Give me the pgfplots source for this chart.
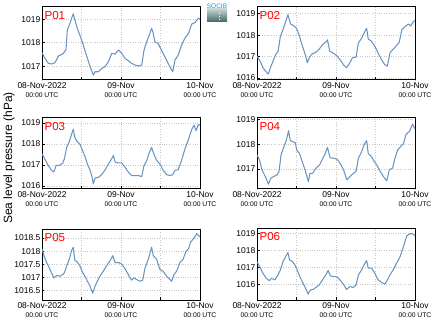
\documentclass[border=0pt]{standalone}
\usepackage{fontspec}
\setmainfont{Liberation Sans}
\usepackage{pgfplots}
\pgfplotsset{compat=1.18}
\definecolor{linec}{RGB}{105,148,193}
\tikzset{ptitle/.style={anchor=north west, text=red, font=\fontsize{11.6}{12}\selectfont, inner sep=0pt}}
\pgfplotsset{
  panel/.style={
    width=158bp, height=72bp, scale only axis,
    xmin=0, xmax=48,
    xtick={0,24,48}, minor xtick={12,36},
    xticklabels={{08-Nov-2022\\{\fontsize{6.8}{9.5}\selectfont 00:00 UTC}},{09-Nov\\{\fontsize{6.8}{9.5}\selectfont 00:00 UTC}},{10-Nov\\{\fontsize{6.8}{9.5}\selectfont 00:00 UTC}}},
    xticklabel style={align=center, font=\fontsize{8.5}{9.5}\selectfont, inner sep=1bp, yshift=-1bp},
    yticklabel style={font=\fontsize{8.5}{10}\selectfont, inner sep=1.5bp},
    /pgf/number format/assume math mode=true,
    /pgf/number format/1000 sep={},
    scaled y ticks=false,
    xmajorgrids, xminorgrids, ymajorgrids,
    grid style={dotted, gray!45, line width=0.6pt},
    minor grid style={dotted, gray!45, line width=0.6pt},
    tick align=inside, tick pos=left,
    major tick length=2.5bp, minor tick length=2.5bp,
    tick style={black, line width=0.6pt},
    axis line style={black, line width=1pt},
    cycle list={{linec, mark=none}},
    every axis plot post/.append style={line width=1.05pt, line join=round},
  },
}
\begin{document}
\begin{tikzpicture}
\useasboundingbox (0,0) rectangle (434bp,327bp);
% P01
\begin{axis}[panel, at={(42bp,247bp)}, anchor=south west, height=73bp,
  ymin=1016.42, ymax=1019.52, ytick={1017,1018,1019}]
\addplot coordinates {(0,1017.58)(0.9,1017.34)(1.9,1017.13)(2.9,1017.1)(3.9,1017.15)(4.5,1017.3)(5,1017.44)(6,1017.51)(6.5,1017.55)(7.3,1017.72)(7.7,1018.55)(8.5,1018.83)(9,1019.04)(9.5,1019.23)(10,1018.97)(10.7,1018.62)(11.5,1018.33)(12.4,1017.97)(13,1017.69)(13.8,1017.34)(14.6,1016.99)(15.6,1016.63)(16.1,1016.77)(17.1,1016.77)(18.1,1016.91)(19.1,1016.98)(20.2,1017.2)(21.2,1017.55)(22.2,1017.52)(23.2,1017.69)(24.2,1017.55)(25.2,1017.34)(26.2,1017.24)(27.2,1017.13)(28.2,1017.06)(29.3,1017.01)(30.3,1017.06)(31,1017.69)(31.8,1018.04)(32.6,1018.33)(33.3,1018.62)(33.8,1018.4)(34.3,1018.04)(35.3,1017.97)(36.3,1017.69)(37.3,1017.41)(38.3,1017.13)(39.4,1016.84)(39.7,1016.77)(40.4,1017.27)(41.4,1017.48)(42.4,1017.9)(43.4,1018.19)(44.5,1018.4)(45.5,1018.8)(46.5,1018.86)(47.5,1019.04)(48,1019.0)};
\node[ptitle] at (rel axis cs:0.015,0.936) {P01};
\end{axis}
% P02
\begin{axis}[panel, at={(257bp,247bp)}, anchor=south west, height=73bp,
  ymin=1015.91, ymax=1019.31, ytick={1016,1017,1018,1019}]
\addplot coordinates {(0,1017.02)(1,1016.78)(1.8,1016.49)(2.5,1016.34)(3.4,1016.18)(4.1,1016.49)(4.9,1016.8)(5.7,1017.1)(6.4,1017.25)(7.1,1017.94)(7.9,1018.25)(8.6,1018.57)(9.4,1018.95)(10.2,1018.52)(11.2,1018.43)(12,1018.32)(12.8,1018.0)(13.5,1017.63)(14.5,1017.17)(15.3,1016.71)(16,1017.0)(16.9,1017.14)(17.9,1017.2)(18.9,1017.35)(19.9,1017.55)(20.9,1017.68)(21.4,1017.78)(22.1,1017.25)(23.1,1017.17)(24.2,1017.05)(25.2,1016.86)(26.2,1016.63)(27.2,1016.48)(28.2,1016.71)(29,1016.94)(30.1,1016.98)(30.8,1017.63)(31.8,1017.86)(32.5,1018.09)(33.3,1018.32)(33.8,1017.82)(34.8,1017.71)(35.8,1017.48)(36.8,1017.17)(37.8,1016.86)(38.8,1016.63)(39.6,1016.55)(40.4,1017.17)(41.2,1017.32)(42.2,1017.48)(43.2,1017.66)(44,1018.25)(45,1018.4)(46,1018.52)(46.7,1018.43)(47.5,1018.63)(48,1018.68)};
\node[ptitle] at (rel axis cs:0.015,0.936) {P02};
\end{axis}
% P03
\begin{axis}[panel, at={(42bp,138bp)}, anchor=south west, height=71bp,
  ymin=1015.86, ymax=1019.24, ytick={1016,1017,1018,1019}]
\addplot coordinates {(0,1017.54)(0.9,1017.27)(1.9,1016.98)(2.9,1016.75)(3.6,1016.67)(4.3,1016.98)(5.3,1016.98)(6.3,1017.09)(6.8,1017.3)(7.5,1017.84)(8.3,1018.12)(9,1018.47)(9.5,1018.7)(10,1018.3)(10.7,1018.12)(11.5,1018.0)(12.4,1017.66)(13,1017.42)(13.8,1017.05)(14.6,1016.75)(15.1,1016.5)(15.6,1016.1)(16.1,1016.38)(17.1,1016.41)(18.1,1016.54)(19.1,1016.75)(20.2,1017.06)(21.2,1017.3)(21.7,1017.46)(22.2,1017.14)(23.2,1017.1)(24.2,1017.1)(25.2,1016.9)(26.2,1016.67)(27.2,1016.5)(28.2,1016.5)(29.3,1016.5)(30.3,1016.45)(31,1016.98)(31.8,1017.2)(32.6,1017.6)(33.3,1017.84)(33.8,1017.6)(34.8,1017.22)(35.8,1017.06)(36.8,1016.75)(37.9,1016.54)(38.9,1016.5)(39.7,1016.54)(40.4,1016.75)(41.4,1016.78)(42.4,1017.22)(43.4,1017.76)(44.5,1018.22)(45.5,1018.7)(46.2,1018.9)(46.8,1018.64)(47.5,1018.93)(48,1018.9)};
\node[ptitle] at (rel axis cs:0.015,0.936) {P03};
\end{axis}
% P04
\begin{axis}[panel, at={(257bp,138bp)}, anchor=south west, height=71bp,
  ymin=1016.18, ymax=1019.07, ytick={1017,1018,1019}]
\addplot coordinates {(0,1017.57)(0.8,1017.35)(1.5,1016.96)(2.5,1016.69)(3.5,1016.38)(4.2,1016.62)(5.1,1016.69)(6.1,1016.76)(6.7,1016.9)(7.3,1017.57)(8.1,1017.87)(8.9,1018.16)(9.6,1018.55)(10.1,1018.16)(10.9,1018.1)(11.6,1018.07)(12.1,1017.76)(12.9,1017.62)(13.6,1017.35)(14.6,1016.96)(15.6,1016.48)(16.1,1016.82)(16.9,1016.82)(17.9,1017.03)(19,1017.16)(20,1017.43)(20.7,1017.62)(21.4,1017.87)(22.2,1017.46)(23.3,1017.43)(24.3,1017.4)(25.3,1017.22)(26.3,1016.96)(27.3,1016.55)(28.3,1016.69)(29.3,1016.82)(30.1,1016.9)(30.8,1017.43)(31.8,1017.7)(32.5,1017.98)(33.3,1018.15)(33.8,1017.62)(34.8,1017.5)(35.6,1017.3)(36.4,1017.16)(37.4,1016.9)(38.4,1016.69)(39.4,1016.51)(40.2,1016.96)(41.2,1017.03)(41.9,1017.43)(42.7,1017.76)(43.6,1017.9)(44.5,1018.03)(45.3,1018.41)(46.3,1018.52)(47.3,1018.82)(48,1018.63)};
\node[ptitle] at (rel axis cs:0.015,0.936) {P04};
\end{axis}
% P05
\begin{axis}[panel, at={(42bp,27bp)}, anchor=south west, height=71bp,
  ymin=1016.15, ymax=1018.84, ytick={1016.5,1017,1017.5,1018,1018.5}]
\addplot coordinates {(0,1018.09)(0.6,1017.83)(1.4,1017.57)(2.2,1017.37)(2.9,1017.18)(3.6,1016.99)(4.5,1017.08)(5.5,1017.05)(6.3,1017.12)(6.8,1017.18)(7.5,1017.44)(8.3,1017.7)(9,1018.03)(9.5,1018.15)(10,1017.64)(10.7,1017.6)(11.5,1017.44)(12.4,1017.18)(13,1017.05)(13.8,1016.86)(14.6,1016.67)(15.4,1016.41)(16.1,1016.67)(16.8,1016.86)(17.6,1017.05)(18.6,1017.24)(19.6,1017.44)(20.7,1017.64)(21.5,1017.83)(22.2,1017.57)(23.2,1017.57)(24.2,1017.51)(25.2,1017.34)(26.2,1017.12)(27.2,1016.9)(27.9,1016.99)(28.8,1016.92)(29.8,1016.86)(30.6,1016.9)(31.3,1017.37)(32.3,1017.7)(33.3,1018.15)(33.8,1017.83)(34.8,1017.7)(35.8,1017.31)(36.8,1017.24)(37.9,1017.05)(38.9,1016.92)(39.4,1016.86)(40.1,1017.12)(40.9,1017.24)(41.9,1017.57)(42.9,1017.7)(43.7,1017.99)(44.5,1018.09)(45.2,1018.35)(46.2,1018.5)(47,1018.67)(48,1018.54)};
\node[ptitle] at (rel axis cs:0.015,0.936) {P05};
\end{axis}
% P06
\begin{axis}[panel, at={(257bp,27bp)}, anchor=south west, height=72bp,
  ymin=1015.07, ymax=1019.34, ytick={1016,1017,1018,1019}]
\addplot coordinates {(0,1017.35)(0.8,1017.05)(1.8,1016.66)(2.8,1016.36)(3.7,1016.22)(4.4,1016.36)(5.4,1016.26)(6.4,1016.56)(7.1,1016.86)(7.9,1017.35)(8.7,1017.65)(9.4,1017.88)(9.9,1017.45)(10.8,1017.35)(11.5,1017.15)(12.2,1016.86)(13,1016.46)(14,1016.06)(15,1015.66)(15.5,1015.42)(16.2,1015.66)(17.1,1015.7)(17.9,1015.82)(18.9,1015.96)(19.9,1016.26)(20.9,1016.56)(21.6,1016.82)(22.3,1016.5)(23.1,1016.46)(24.2,1016.46)(25.2,1016.26)(26.2,1016.02)(27.2,1015.7)(28.2,1015.86)(29.2,1015.82)(30.1,1015.96)(30.8,1016.56)(31.8,1016.86)(32.5,1017.15)(33.3,1017.41)(33.8,1016.96)(34.8,1016.96)(35.8,1016.66)(36.8,1016.26)(37.9,1016.1)(38.9,1016.02)(39.6,1016.26)(40.4,1016.56)(41.4,1016.86)(42.4,1017.25)(43.5,1017.65)(44.5,1018.24)(45.5,1018.88)(46.5,1019.0)(47.3,1019.0)(48,1018.88)};
\node[ptitle] at (rel axis cs:0.015,0.936) {P06};
\end{axis}
% y label
\node[rotate=90, font=\fontsize{12}{14}\selectfont, inner sep=0pt] at (9bp,169bp) {Sea level pressure (hPa)};
% logo
\shade[top color=cyan!15!gray!40, bottom color=cyan!20!black!75] (207bp,305bp) rectangle (227bp,318bp);
\node[text=cyan!80!blue, font=\fontsize{6.5}{7}\selectfont, inner sep=0pt, anchor=south] at (217bp,318bp) {SOCIB};
\fill[white] (219bp,307bp) rectangle (220bp,308bp) (219bp,310bp) rectangle (220bp,311bp) (219bp,313bp) rectangle (220bp,314bp);
\end{tikzpicture}
\end{document}
